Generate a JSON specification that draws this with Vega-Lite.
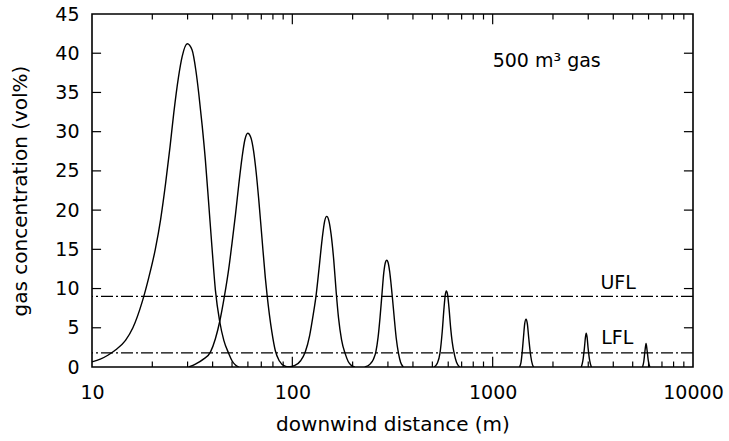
{
  "$schema": "https://vega.github.io/schema/vega-lite/v6.json",
  "width": 601,
  "height": 353,
  "autosize": {"type": "none"},
  "padding": {"left": 92, "top": 14, "right": 36, "bottom": 74},
  "background": "white",
  "config": {
    "font": "DejaVu Sans",
    "view": {"stroke": "black", "strokeWidth": 1.6},
    "axis": {
      "grid": false,
      "domain": false,
      "ticks": false,
      "tickSize": 0,
      "labelColor": "black",
      "labelFont": "DejaVu Sans",
      "labelFontSize": 19,
      "titleFont": "DejaVu Sans",
      "titleFontSize": 20,
      "titleFontWeight": "normal",
      "titleColor": "black",
      "labelOverlap": false,
      "labelFlush": false
    }
  },
  "datasets": {
    "curves": [
      {"s": 1, "d": 10, "c": 0.65}, {"s": 1, "d": 11, "c": 1.0}, {"s": 1, "d": 12, "c": 1.5}, {"s": 1, "d": 13, "c": 2.1},
      {"s": 1, "d": 14.7, "c": 3.4}, {"s": 1, "d": 16, "c": 5.0}, {"s": 1, "d": 17.8, "c": 8.3}, {"s": 1, "d": 19.2, "c": 11.4},
      {"s": 1, "d": 20.7, "c": 15.0}, {"s": 1, "d": 22, "c": 18.8}, {"s": 1, "d": 23.3, "c": 23.4}, {"s": 1, "d": 24.5, "c": 28.0},
      {"s": 1, "d": 25.6, "c": 32.4}, {"s": 1, "d": 27, "c": 36.9}, {"s": 1, "d": 28.2, "c": 39.6}, {"s": 1, "d": 29.9, "c": 41.2},
      {"s": 1, "d": 31.6, "c": 40.4}, {"s": 1, "d": 33, "c": 37.8}, {"s": 1, "d": 34.1, "c": 34.9}, {"s": 1, "d": 35.5, "c": 30.7},
      {"s": 1, "d": 36.8, "c": 26.4}, {"s": 1, "d": 38.2, "c": 21}, {"s": 1, "d": 39.7, "c": 15.3}, {"s": 1, "d": 41.3, "c": 9.8},
      {"s": 1, "d": 43.4, "c": 5.8}, {"s": 1, "d": 45.5, "c": 3.4}, {"s": 1, "d": 48.2, "c": 1.7}, {"s": 1, "d": 50, "c": 0.8},
      {"s": 1, "d": 52, "c": 0.25}, {"s": 1, "d": 54, "c": 0},
      {"s": 2, "d": 30.4, "c": 0}, {"s": 2, "d": 33, "c": 0.4}, {"s": 2, "d": 36, "c": 1.0}, {"s": 2, "d": 39, "c": 1.9},
      {"s": 2, "d": 41.3, "c": 3.6}, {"s": 2, "d": 43.4, "c": 5.8}, {"s": 2, "d": 45.8, "c": 9}, {"s": 2, "d": 48.2, "c": 12.6},
      {"s": 2, "d": 50, "c": 15.8}, {"s": 2, "d": 52, "c": 19.4}, {"s": 2, "d": 54, "c": 23.2}, {"s": 2, "d": 56.1, "c": 26.7},
      {"s": 2, "d": 58, "c": 29.0}, {"s": 2, "d": 59.9, "c": 29.8}, {"s": 2, "d": 62, "c": 29.3}, {"s": 2, "d": 64.1, "c": 27.5},
      {"s": 2, "d": 66, "c": 24.8}, {"s": 2, "d": 67.9, "c": 21.5}, {"s": 2, "d": 70.5, "c": 16.5}, {"s": 2, "d": 73.3, "c": 11.4},
      {"s": 2, "d": 74.8, "c": 9.2}, {"s": 2, "d": 79, "c": 4.5}, {"s": 2, "d": 82.2, "c": 2.1}, {"s": 2, "d": 86, "c": 0.8},
      {"s": 2, "d": 92, "c": 0.1}, {"s": 2, "d": 96, "c": 0},
      {"s": 3, "d": 95, "c": 0}, {"s": 3, "d": 103, "c": 0.2}, {"s": 3, "d": 110, "c": 0.8}, {"s": 3, "d": 116, "c": 1.9},
      {"s": 3, "d": 122, "c": 4.0}, {"s": 3, "d": 127, "c": 6.6}, {"s": 3, "d": 131.5, "c": 9.2}, {"s": 3, "d": 136, "c": 12.6},
      {"s": 3, "d": 141, "c": 16.4}, {"s": 3, "d": 145, "c": 18.6}, {"s": 3, "d": 148.5, "c": 19.2}, {"s": 3, "d": 152, "c": 18.7},
      {"s": 3, "d": 156, "c": 17.0}, {"s": 3, "d": 161, "c": 13.6}, {"s": 3, "d": 165.5, "c": 9.6}, {"s": 3, "d": 170, "c": 6.3},
      {"s": 3, "d": 176, "c": 3.5}, {"s": 3, "d": 183.6, "c": 1.7}, {"s": 3, "d": 190, "c": 0.7}, {"s": 3, "d": 198, "c": 0.15},
      {"s": 3, "d": 205, "c": 0},
      {"s": 4, "d": 230, "c": 0}, {"s": 4, "d": 245, "c": 0.4}, {"s": 4, "d": 254, "c": 1.0}, {"s": 4, "d": 261, "c": 1.9},
      {"s": 4, "d": 268, "c": 3.8}, {"s": 4, "d": 274, "c": 6.3}, {"s": 4, "d": 280, "c": 9.2}, {"s": 4, "d": 286, "c": 12},
      {"s": 4, "d": 292, "c": 13.4}, {"s": 4, "d": 296, "c": 13.6}, {"s": 4, "d": 300, "c": 13.4}, {"s": 4, "d": 306, "c": 12.2},
      {"s": 4, "d": 311, "c": 10.6}, {"s": 4, "d": 316, "c": 8.8}, {"s": 4, "d": 322, "c": 6.5}, {"s": 4, "d": 330, "c": 3.7},
      {"s": 4, "d": 339, "c": 1.7}, {"s": 4, "d": 347, "c": 0.6}, {"s": 4, "d": 358, "c": 0},
      {"s": 5, "d": 510, "c": 0}, {"s": 5, "d": 530, "c": 0.5}, {"s": 5, "d": 546, "c": 1.8}, {"s": 5, "d": 560, "c": 4.5},
      {"s": 5, "d": 572, "c": 7.6}, {"s": 5, "d": 580, "c": 9.2}, {"s": 5, "d": 587, "c": 9.7}, {"s": 5, "d": 595, "c": 9.3},
      {"s": 5, "d": 605, "c": 7.6}, {"s": 5, "d": 618, "c": 4.8}, {"s": 5, "d": 628, "c": 3.2}, {"s": 5, "d": 644, "c": 1.6},
      {"s": 5, "d": 660, "c": 0.6}, {"s": 5, "d": 685, "c": 0},
      {"s": 6, "d": 1360, "c": 0}, {"s": 6, "d": 1385, "c": 0.6}, {"s": 6, "d": 1403, "c": 1.8}, {"s": 6, "d": 1425, "c": 3.8},
      {"s": 6, "d": 1445, "c": 5.5}, {"s": 6, "d": 1468, "c": 6.1}, {"s": 6, "d": 1490, "c": 5.5}, {"s": 6, "d": 1515, "c": 3.6},
      {"s": 6, "d": 1549, "c": 1.4}, {"s": 6, "d": 1580, "c": 0.3}, {"s": 6, "d": 1600, "c": 0},
      {"s": 7, "d": 2770, "c": 0}, {"s": 7, "d": 2820, "c": 0.8}, {"s": 7, "d": 2870, "c": 2.4}, {"s": 7, "d": 2905, "c": 3.8},
      {"s": 7, "d": 2930, "c": 4.3}, {"s": 7, "d": 2960, "c": 3.8}, {"s": 7, "d": 2995, "c": 2.4}, {"s": 7, "d": 3050, "c": 0.8},
      {"s": 7, "d": 3110, "c": 0},
      {"s": 8, "d": 5600, "c": 0}, {"s": 8, "d": 5680, "c": 0.7}, {"s": 8, "d": 5760, "c": 2.1}, {"s": 8, "d": 5830, "c": 3.0},
      {"s": 8, "d": 5900, "c": 2.1}, {"s": 8, "d": 5990, "c": 0.7}, {"s": 8, "d": 6090, "c": 0}
    ],
    "limits": [{"name": "UFL", "v": 9}, {"name": "LFL", "v": 1.8}],
    "labels": [
      {"t": "500 m³ gas", "d": 1000, "c": 38.3},
      {"t": "UFL", "d": 3450, "c": 9.9},
      {"t": "LFL", "d": 3480, "c": 2.9}
    ],
    "xminor": [
      {"d": 20}, {"d": 30}, {"d": 40}, {"d": 50}, {"d": 60}, {"d": 70}, {"d": 80}, {"d": 90},
      {"d": 200}, {"d": 300}, {"d": 400}, {"d": 500}, {"d": 600}, {"d": 700}, {"d": 800}, {"d": 900},
      {"d": 2000}, {"d": 3000}, {"d": 4000}, {"d": 5000}, {"d": 6000}, {"d": 7000}, {"d": 8000}, {"d": 9000}
    ],
    "xmajor": [{"d": 100}, {"d": 1000}],
    "yticks": [{"c": 5}, {"c": 10}, {"c": 15}, {"c": 20}, {"c": 25}, {"c": 30}, {"c": 35}, {"c": 40}]
  },
  "layer": [
    {
      "data": {"name": "curves"},
      "mark": {"type": "line", "interpolate": "monotone", "color": "black", "strokeWidth": 1.4, "clip": true},
      "encoding": {
        "x": {
          "field": "d", "type": "quantitative",
          "scale": {"type": "log", "domain": [10, 10000], "nice": false},
          "axis": {
            "orient": "bottom", "title": "downwind distance (m)",
            "values": [10, 100, 1000, 10000],
            "format": "d",
            "labelPadding": 16, "titlePadding": 12
          }
        },
        "y": {
          "field": "c", "type": "quantitative",
          "scale": {"domain": [0, 45], "nice": false},
          "axis": {
            "orient": "left", "title": "gas concentration (vol%)",
            "values": [0,5,10,15,20,25,30,35,40,45],
            "labelPadding": 13, "titlePadding": 24
          }
        },
        "detail": {"field": "s", "type": "nominal"}
      }
    },
    {
      "data": {"name": "limits"},
      "mark": {"type": "rule", "color": "black", "strokeWidth": 1.3, "strokeDash": [12, 3, 2, 3]},
      "encoding": {
        "y": {"field": "v", "type": "quantitative", "scale": {"domain": [0, 45], "nice": false}, "axis": null}
      }
    },
    {
      "data": {"name": "xminor"},
      "layer": [
        {
          "mark": {"type": "rule", "color": "black", "strokeWidth": 1.2},
          "encoding": {
            "x": {"field": "d", "type": "quantitative", "scale": {"type": "log", "domain": [10, 10000], "nice": false}, "axis": null},
            "y": {"datum": 0, "type": "quantitative", "scale": {"domain": [0, 45], "nice": false}, "axis": null},
            "y2": {"datum": 0.7}
          }
        },
        {
          "mark": {"type": "rule", "color": "black", "strokeWidth": 1.2},
          "encoding": {
            "x": {"field": "d", "type": "quantitative", "scale": {"type": "log", "domain": [10, 10000], "nice": false}, "axis": null},
            "y": {"datum": 45, "type": "quantitative", "scale": {"domain": [0, 45], "nice": false}, "axis": null},
            "y2": {"datum": 44.3}
          }
        }
      ]
    },
    {
      "data": {"name": "xmajor"},
      "layer": [
        {
          "mark": {"type": "rule", "color": "black", "strokeWidth": 1.2},
          "encoding": {
            "x": {"field": "d", "type": "quantitative", "scale": {"type": "log", "domain": [10, 10000], "nice": false}, "axis": null},
            "y": {"datum": 0, "type": "quantitative", "scale": {"domain": [0, 45], "nice": false}, "axis": null},
            "y2": {"datum": 1.3}
          }
        },
        {
          "mark": {"type": "rule", "color": "black", "strokeWidth": 1.2},
          "encoding": {
            "x": {"field": "d", "type": "quantitative", "scale": {"type": "log", "domain": [10, 10000], "nice": false}, "axis": null},
            "y": {"datum": 45, "type": "quantitative", "scale": {"domain": [0, 45], "nice": false}, "axis": null},
            "y2": {"datum": 43.7}
          }
        }
      ]
    },
    {
      "data": {"name": "yticks"},
      "layer": [
        {
          "mark": {"type": "rule", "color": "black", "strokeWidth": 1.2},
          "encoding": {
            "y": {"field": "c", "type": "quantitative", "scale": {"domain": [0, 45], "nice": false}, "axis": null},
            "x": {"datum": 10, "type": "quantitative", "scale": {"type": "log", "domain": [10, 10000], "nice": false}, "axis": null},
            "x2": {"datum": 11.1}
          }
        },
        {
          "mark": {"type": "rule", "color": "black", "strokeWidth": 1.2},
          "encoding": {
            "y": {"field": "c", "type": "quantitative", "scale": {"domain": [0, 45], "nice": false}, "axis": null},
            "x": {"datum": 10000, "type": "quantitative", "scale": {"type": "log", "domain": [10, 10000], "nice": false}, "axis": null},
            "x2": {"datum": 9010}
          }
        }
      ]
    },
    {
      "data": {"name": "labels"},
      "mark": {"type": "text", "align": "left", "baseline": "alphabetic", "fontSize": 19, "font": "DejaVu Sans", "color": "black"},
      "encoding": {
        "x": {"field": "d", "type": "quantitative", "scale": {"type": "log", "domain": [10, 10000], "nice": false}, "axis": null},
        "y": {"field": "c", "type": "quantitative", "scale": {"domain": [0, 45], "nice": false}, "axis": null},
        "text": {"field": "t", "type": "nominal"}
      }
    }
  ],
  "resolve": {"axis": {"x": "independent", "y": "independent"}}
}
